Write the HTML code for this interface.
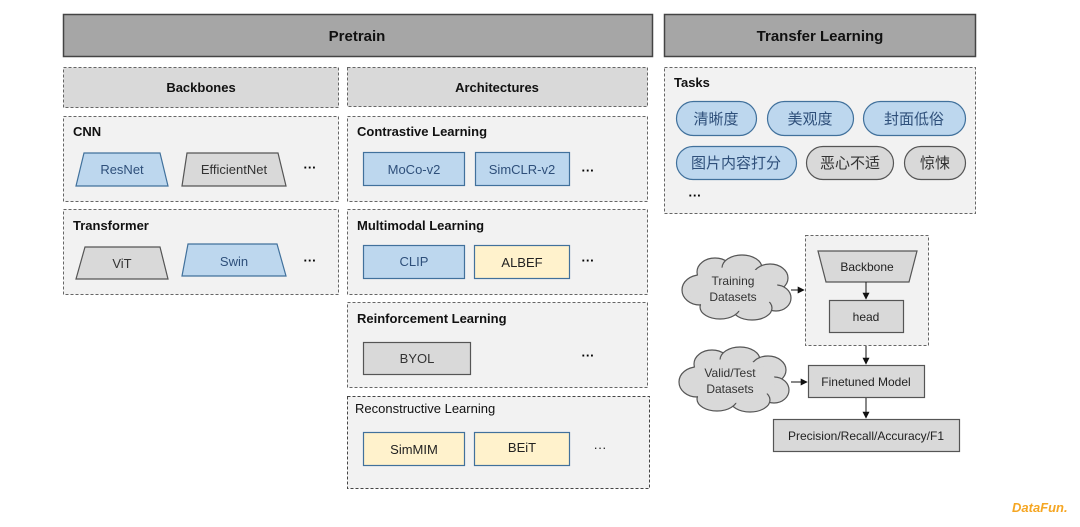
<!DOCTYPE html>
<html><head><meta charset="utf-8"><style>
html,body{margin:0;padding:0;background:#fff;}
svg{display:block;}
text{font-family:"Liberation Sans","Noto Sans CJK SC",sans-serif;}
.b{font-weight:bold;font-size:13px;fill:#111;}
.t{font-size:13px;text-anchor:middle;}
.bl{fill:#bdd7ee;stroke:#41719c;stroke-width:1.2;}
.gr{fill:#d9d9d9;stroke:#555;stroke-width:1.2;}
.ye{fill:#fff2cc;stroke:#41719c;stroke-width:1.2;}
.dash{fill:#f2f2f2;stroke:#666;stroke-width:1;stroke-dasharray:3,2;}
</style></head><body>
<svg width="1080" height="527" viewBox="0 0 1080 527" xmlns="http://www.w3.org/2000/svg">
<defs><marker id="a" viewBox="0 0 10 10" refX="9" refY="5" markerWidth="7" markerHeight="7" orient="auto"><path d="M0,0L10,5L0,10z" fill="#111"/></marker></defs>
<!-- headers -->
<rect x="63.5" y="14.5" width="589" height="42" fill="#a6a6a6" stroke="#444" stroke-width="1.5"/>
<text x="357" y="41" class="b" text-anchor="middle" font-size="15" style="font-size:15px">Pretrain</text>
<rect x="664.5" y="14.5" width="311" height="42" fill="#a6a6a6" stroke="#444" stroke-width="1.5"/>
<text x="820" y="41" class="b" text-anchor="middle" style="font-size:15px">Transfer Learning</text>
<rect x="63.5" y="67.5" width="275" height="40" fill="#d9d9d9" stroke="#666" stroke-dasharray="3,2"/>
<text x="201" y="92" class="b" text-anchor="middle">Backbones</text>
<rect x="347.5" y="67.5" width="300" height="39" fill="#d9d9d9" stroke="#666" stroke-dasharray="3,2"/>
<text x="497" y="92" class="b" text-anchor="middle">Architectures</text>
<!-- left boxes -->
<rect x="63.5" y="116.5" width="275" height="85" class="dash"/>
<text x="73" y="136" class="b">CNN</text>
<polygon points="84,153 160,153 168,186 76,186" class="bl"/><text x="122" y="174" class="t" fill="#2e4f7a">ResNet</text>
<polygon points="187,153 278,153 286,186 182,186" class="gr"/><text x="234" y="174" class="t" fill="#333">EfficientNet</text>
<text x="310" y="172" class="t" font-weight="bold">···</text>
<rect x="63.5" y="209.5" width="275" height="85" class="dash"/>
<text x="73" y="230" class="b">Transformer</text>
<polygon points="85,247 160,247 168,279 76,279" class="gr"/><text x="122" y="268" class="t" fill="#333">ViT</text>
<polygon points="188,244 277,244 286,276 182,276" class="bl"/><text x="234" y="266" class="t" fill="#2e4f7a">Swin</text>
<text x="310" y="265" class="t" font-weight="bold">···</text>
<!-- right arch -->
<rect x="347.5" y="116.5" width="300" height="85" class="dash"/>
<text x="357" y="136" class="b">Contrastive Learning</text>
<rect x="363.5" y="152.5" width="101" height="33" class="bl"/><text x="414" y="174" class="t" fill="#2e4f7a">MoCo-v2</text>
<rect x="475.5" y="152.5" width="94" height="33" class="bl"/><text x="522" y="174" class="t" fill="#2e4f7a">SimCLR-v2</text>
<text x="588" y="175" class="t" font-weight="bold">···</text>
<rect x="347.5" y="209.5" width="300" height="85" class="dash"/>
<text x="357" y="230" class="b">Multimodal Learning</text>
<rect x="363.5" y="245.5" width="101" height="33" class="bl"/><text x="414" y="266" class="t" fill="#2e4f7a">CLIP</text>
<rect x="474.5" y="245.5" width="95" height="33" class="ye"/><text x="522" y="267" class="t" fill="#222">ALBEF</text>
<text x="588" y="265" class="t" font-weight="bold">···</text>
<rect x="347.5" y="302.5" width="300" height="85" class="dash"/>
<text x="357" y="323" class="b">Reinforcement Learning</text>
<rect x="363.5" y="342.5" width="107" height="32" class="gr"/><text x="417" y="363" class="t" fill="#333">BYOL</text>
<text x="588" y="360" class="t" font-weight="bold">···</text>
<rect x="347.5" y="396.5" width="302" height="92" fill="#f2f2f2" stroke="#444" stroke-dasharray="3,2"/>
<text x="355" y="413" style="font-size:13px" fill="#111">Reconstructive Learning</text>
<rect x="363.5" y="432.5" width="101" height="33" class="ye"/><text x="414" y="454" class="t" fill="#222">SimMIM</text>
<rect x="474.5" y="432.5" width="95" height="33" class="ye"/><text x="522" y="452" class="t" fill="#222">BEiT</text>
<text x="600" y="452" class="t" fill="#222">···</text>
<!-- tasks -->
<rect x="664.5" y="67.5" width="311" height="146" class="dash"/>
<text x="674" y="87" class="b">Tasks</text>
<rect x="676.5" y="101.5" width="80" height="34" rx="17" class="bl"/><text x="716" y="124" class="t" style="font-size:15px" fill="#2e4f7a">清晰度</text>
<rect x="767.5" y="101.5" width="86" height="34" rx="17" class="bl"/><text x="810" y="124" class="t" style="font-size:15px" fill="#2e4f7a">美观度</text>
<rect x="863.5" y="101.5" width="102" height="34" rx="17" class="bl"/><text x="914" y="124" class="t" style="font-size:15px" fill="#2e4f7a">封面低俗</text>
<rect x="676.5" y="146.5" width="120" height="33" rx="16.5" class="bl"/><text x="736" y="168" class="t" style="font-size:15px" fill="#2e4f7a">图片内容打分</text>
<rect x="806.5" y="146.5" width="87" height="33" rx="16.5" class="gr"/><text x="850" y="168" class="t" style="font-size:15px" fill="#333">恶心不适</text>
<rect x="904.5" y="146.5" width="61" height="33" rx="16.5" class="gr"/><text x="935" y="168" class="t" style="font-size:15px" fill="#333">惊悚</text>
<text x="695" y="200" class="t" font-weight="bold">···</text>
<!-- flow -->
<rect x="805.5" y="235.5" width="123" height="110" class="dash" stroke="#333"/>
<polygon points="818,251 917,251 909,282 826,282" class="gr"/><text x="867" y="271" class="t" style="font-size:12px" fill="#222">Backbone</text>
<rect x="829.5" y="300.5" width="74" height="32" class="gr"/><text x="866" y="321" class="t" style="font-size:12px" fill="#222">head</text>
<line x1="866" y1="282" x2="866" y2="299" stroke="#111" marker-end="url(#a)"/>
<g fill="#d9d9d9" stroke="#555" stroke-width="1.2">
<ellipse cx="700" cy="290" rx="18" ry="15"/><ellipse cx="715" cy="272" rx="18" ry="14"/><ellipse cx="742" cy="268" rx="20" ry="13"/><ellipse cx="770" cy="278" rx="18" ry="14"/><ellipse cx="776" cy="298" rx="15" ry="13"/><ellipse cx="752" cy="308" rx="20" ry="12"/><ellipse cx="720" cy="307" rx="20" ry="12"/>
<ellipse cx="697" cy="382" rx="18" ry="15"/><ellipse cx="712" cy="364" rx="18" ry="14"/><ellipse cx="740" cy="360" rx="20" ry="13"/><ellipse cx="768" cy="370" rx="18" ry="14"/><ellipse cx="774" cy="390" rx="15" ry="13"/><ellipse cx="750" cy="400" rx="20" ry="12"/><ellipse cx="717" cy="399" rx="20" ry="12"/>
</g>
<g fill="#d9d9d9">
<ellipse cx="733" cy="289" rx="45" ry="22"/><ellipse cx="730" cy="381" rx="45" ry="22"/>
</g>
<text x="733" y="285" class="t" style="font-size:12px" fill="#333">Training</text><text x="733" y="301" class="t" style="font-size:12px" fill="#333">Datasets</text>
<text x="730" y="377" class="t" style="font-size:12px" fill="#333">Valid/Test</text><text x="730" y="393" class="t" style="font-size:12px" fill="#333">Datasets</text>
<line x1="791" y1="290" x2="804" y2="290" stroke="#111" marker-end="url(#a)"/>
<rect x="808.5" y="365.5" width="116" height="32" class="gr"/><text x="866" y="386" class="t" style="font-size:12px" fill="#222">Finetuned Model</text>
<line x1="866" y1="346" x2="866" y2="364" stroke="#111" marker-end="url(#a)"/>
<line x1="791" y1="382" x2="807" y2="382" stroke="#111" marker-end="url(#a)"/>
<rect x="773.5" y="419.5" width="186" height="32" class="gr"/><text x="866" y="440" class="t" style="font-size:12px" fill="#222">Precision/Recall/Accuracy/F1</text>
<line x1="866" y1="398" x2="866" y2="418" stroke="#111" marker-end="url(#a)"/>
<text x="1012" y="512" style="font-size:13px;font-weight:bold;font-style:italic" fill="#f5a623">DataFun.</text>
</svg>
</body></html>
